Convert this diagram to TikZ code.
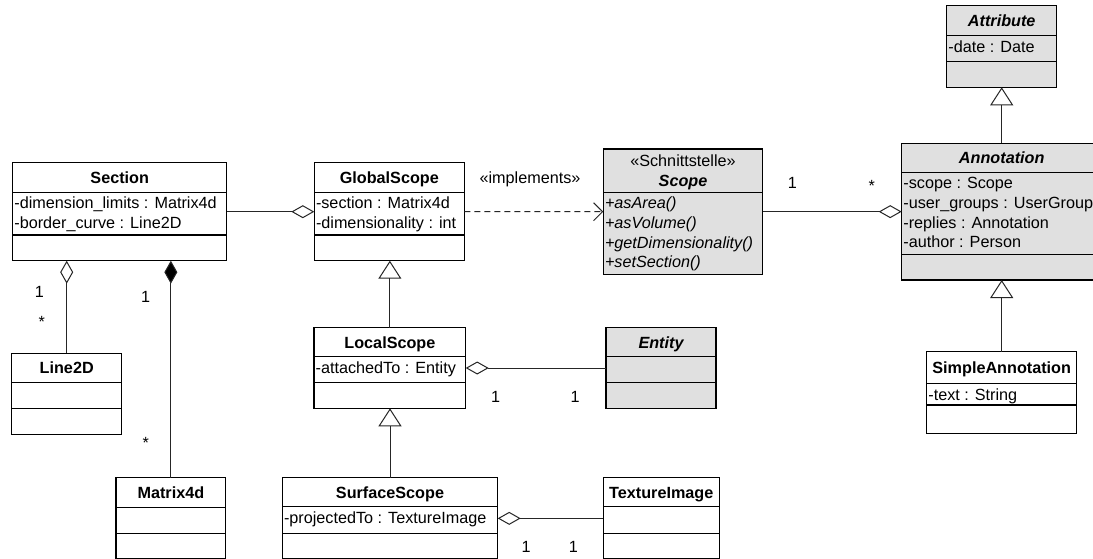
\documentclass[tikz,border=0pt]{standalone}
\usepackage{fontspec}
\setmainfont{Liberation Sans}
\usetikzlibrary{arrows.meta}
\definecolor{cgray}{RGB}{224,224,224}
\tikzset{
  cls/.style={draw=black, line width=1.4pt, anchor=north west, inner sep=0pt, outer sep=0pt},
  divline/.style={line width=1.4pt},
  conn/.style={line width=1pt, draw=black!85},
  agg/.style={-{Diamond[open,length=23pt,width=13pt]}},
  comp/.style={-{Diamond[fill=black,length=23pt,width=13pt]}},
  inh/.style={-{Triangle[open,length=18pt,width=23pt]}},
  real/.style={dash pattern=on 6pt off 4pt, -{Straight Barb[length=9pt,width=18pt]}},
  ttl/.style={font={\bfseries\fontsize{16.2}{19.5}\selectfont}, inner sep=0pt, anchor=base},
  ittl/.style={font={\bfseries\itshape\fontsize{16.2}{19.5}\selectfont}, inner sep=0pt, anchor=base},
  txt/.style={font={\fontsize{16.2}{19.5}\selectfont}, inner sep=0pt, anchor=base west},
  itxt/.style={font={\itshape\fontsize{16.2}{19.5}\selectfont}, inner sep=0pt, anchor=base west},
  mult/.style={font={\fontsize{16.2}{19.5}\selectfont}, inner sep=0pt, anchor=base},
}
\newcommand\umlbox[8]{%
  \node[cls, fill=#2, minimum width={#5-#3}, minimum height={#6-#4}] (#1) at (#3,#4) {};
  \draw[divline] (#3,#7) -- (#5,#7) (#3,#8) -- (#5,#8);
}
\begin{document}
\begin{tikzpicture}[x=1pt,y=-1pt]
\useasboundingbox (0,0) rectangle (1093,558);
\clip (0,0) rectangle (1093,558);
\fill[white] (0,0) rectangle (1093,558);

% classes
\umlbox{sec}{white}{12.7}{162.7}{226.7}{260.7}{192.3}{235}
\umlbox{gs}{white}{314.3}{162.7}{464.3}{260.7}{192.3}{235}
\umlbox{scope}{cgray}{603.3}{149}{762.7}{274.3}{192.3}{192.3}
\umlbox{attr}{cgray}{946.7}{5.7}{1056.7}{87.3}{35.7}{61.7}
\umlbox{ann}{cgray}{901.7}{143.3}{1101.7}{280}{172.3}{254.3}
\umlbox{sa}{white}{926.7}{351.7}{1076.7}{433.3}{383.3}{405}
\umlbox{l2d}{white}{11.7}{353.3}{121.7}{434.3}{382.7}{408.3}
\umlbox{m4d}{white}{116}{477.7}{225.7}{559}{507.3}{533.3}
\umlbox{ls}{white}{314}{327.7}{465.7}{408.3}{356.7}{382.3}
\umlbox{ent}{cgray}{606}{327.7}{716}{408.3}{356.7}{382.3}
\umlbox{ss}{white}{282.3}{477.7}{497.7}{559}{506.7}{533.3}
\umlbox{tex}{white}{603.3}{477.7}{719.3}{559}{506.7}{533.3}

% texts
\node[ttl] (secT) at (119.7,183.3) {Section};
\node[txt] (secA1) at (14.2,208.8) {-dimension\_limits : Matrix4d};
\node[txt] (secA2) at (14.2,228.5) {-border\_curve : Line2D};

\node[ttl] (gsT) at (389.3,183.3) {GlobalScope};
\node[txt] (gsA1) at (315.8,208.8) {-section : Matrix4d};
\node[txt] (gsA2) at (315.8,228.5) {-dimensionality : int};

\node[mult] (scS) at (683,166) {«Schnittstelle»};
\node[ittl] (scT) at (683,186) {Scope};
\node[itxt] (scM1) at (604.8,208.8) {+asArea()};
\node[itxt] (scM2) at (604.8,228.5) {+asVolume()};
\node[itxt] (scM3) at (604.8,248.2) {+getDimensionality()};
\node[itxt] (scM4) at (604.8,267.9) {+setSection()};

\node[ittl] (atT) at (1001.7,26.5) {Attribute};
\node[txt] (atA1) at (948.2,52.4) {-date : Date};

\node[ittl] (anT) at (1001.7,163) {Annotation};
\node[txt] (anA1) at (903.2,188.8) {-scope : Scope};
\node[txt] (anA2) at (903.2,208.5) {-user\_groups : UserGroup};
\node[txt] (anA3) at (903.2,228.2) {-replies : Annotation};
\node[txt] (anA4) at (903.2,247.9) {-author : Person};

\node[ttl] (saT) at (1001.7,373.3) {SimpleAnnotation};
\node[txt] (saA1) at (928.2,400.3) {-text : String};

\node[ttl] (l2dT) at (66.7,373.8) {Line2D};
\node[ttl] (m4dT) at (170.9,498.3) {Matrix4d};

\node[ttl] (lsT) at (389.9,348) {LocalScope};
\node[txt] (lsA1) at (315.5,373.5) {-attachedTo : Entity};
\node[ittl] (entT) at (661,348) {Entity};

\node[ttl] (ssT) at (390,498) {SurfaceScope};
\node[txt] (ssA1) at (283.8,523.6) {-projectedTo : TextureImage};
\node[ttl] (texT) at (661.3,498) {TextureImage};

% connectors
\draw[conn, agg] (sec.east) -- (gs.west);
\draw[conn, real] (gs.east) -- (scope.west);
\node[mult] (implL) at (530,183) {«implements»};
\draw[conn, agg] (scope.east) -- (ann.west);
\node[mult] (m1) at (792.3,188) {1};
\node[mult] (m2) at (871.7,191) {*};
\draw[conn, inh] (ann.north) -- (attr.south);
\draw[conn, inh] (sa.north) -- (ann.south);

\draw[conn, agg] (l2d.north) -- (l2d.north |- sec.south);
\node[mult] (m3) at (39.3,297.5) {1};
\node[mult] (m4) at (41.7,327) {*};
\draw[conn, comp] (m4d.north) -- (m4d.north |- sec.south);
\node[mult] (m5) at (145.7,302) {1};
\node[mult] (m6) at (145.7,448) {*};

\draw[conn, inh] (ls.north) -- (ls.north |- gs.south);
\draw[conn, inh] (ss.north) -- (ss.north |- ls.south);

\draw[conn, agg] (ent.west) -- (ls.east);
\node[mult] (m7) at (495.7,402.5) {1};
\node[mult] (m8) at (575,402.5) {1};
\draw[conn, agg] (tex.west) -- (ss.east);
\node[mult] (m9) at (526,552) {1};
\node[mult] (m10) at (573.3,552) {1};
\end{tikzpicture}
\end{document}
